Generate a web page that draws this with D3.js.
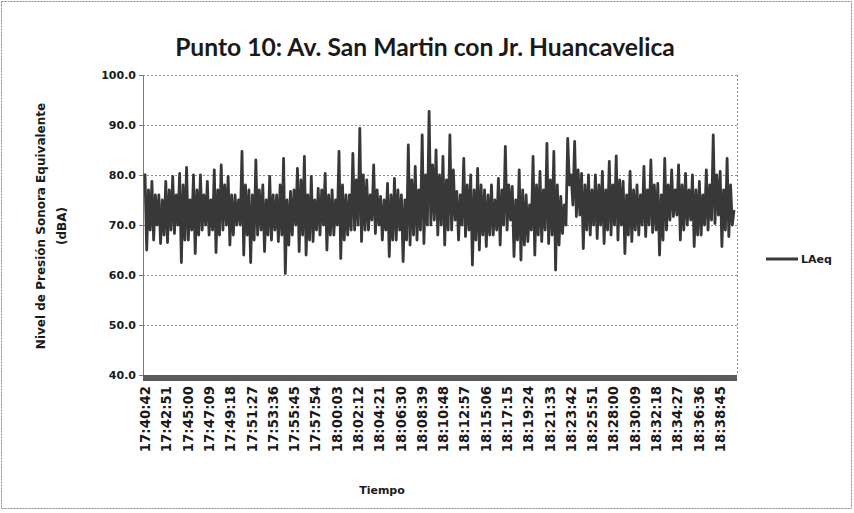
<!DOCTYPE html>
<html><head><meta charset="utf-8">
<script src="https://cdn.jsdelivr.net/npm/d3@7/dist/d3.min.js"></script>
<style>
html,body{margin:0;padding:0;background:#fff;}
text{font-family:"DejaVu Sans",Verdana,sans-serif;font-weight:bold;fill:#1a1a1a;}
</style></head>
<body><svg id="chart" width="854" height="513"></svg>
<script>
// ---- data ----
const titleText = "Punto 10: Av. San Martin con Jr. Huancavelica";
const yTitle1 = "Nivel de Presión Sonora Equivalente";
const yTitle2 = "(dBA)";
const xTitle = "Tiempo";
const seriesName = "LAeq";
const startTime = "17:40:42";
const stepSeconds = 10.5;
const yTicks = [40, 50, 60, 70, 80, 90, 100];
const tickLabels = ["17:40:42","17:42:51","17:45:00","17:47:09","17:49:18","17:51:27","17:53:36","17:55:45","17:57:54","18:00:03","18:02:12","18:04:21","18:06:30","18:08:39","18:10:48","18:12:57","18:15:06","18:17:15","18:19:24","18:21:33","18:23:42","18:25:51","18:28:00","18:30:09","18:32:18","18:34:27","18:36:36","18:38:45"];
// LAeq, in time order, as successive groups of
// (spike top, dip, upper band, lower band)
const peaks = [80.3,78.7,76,78.7,79.7,80.3,81.5,80,80,78.7, 81,82,79.7,76,84.7,77,83,78,79.7,76,
  83.3,76.7,81.3,83.7,79.7,77.3,80.3,77,84.7,76, 84.3,89.3,79,82,75.7,78.3,79.3,76,86,81.7,
  88,92.7,85,83.7,88,76.7,83.3,80,81.3,77, 78,79.3,85.7,77.7,81,76,83.7,80.7,86.3,84.7,
  75.7,87.3,86.7,80.3,80,80,80.7,82.7,83.8,78.7, 80.7,78,81.7,83,78.3,83.3,81,82,80.3,80,
  78.7,81,88,80.7,83.3];
const dips = [65,67,66.3,66.5,68.3,62.5,67,64.3,69,68, 64.5,69,66,70,64,62.5,68,64.7,67,66.7,
  60.3,68,64.7,64,66.7,68,65,68,63.3,68, 69,66.7,69,68.3,67,63.7,67,62.7,66,67,
  66.3,70,68,66,69,67,67.7,62,65,65.7, 68,66,69,63.7,63,66.7,64,66.7,66.3,61,
  68.3,78,71.7,65.3,68,67.3,66.3,68,67,64.3, 66.7,68,67.7,68.5,64,69,71.7,67,70,65.7,
  68,69,70.3,65.7,67.7];
const bandHigh = [77,76,75,77,76,78,75,77,76,75,77,78,76, 75,78,76,77,75,76,78,75,77,79,76,75,77,
  76,75,78,76,79,80,76,77,75,76,77,75,79,77,80, 82,80,79,81,76,78,77,78,
  76,75,77,78,75,77,74,78,77,79,78,74, 80,81,78,77,78,77,78,79,76,77,
  76,77,78,76,78,77,78,77,77,76,78,80,77,78];
const bandLow = [69,70,68,69,70,67,69,68,70,69,68,70,68, 70,68,67,69,68,69,68,66,70,68,67,69,70,
  68,70,67,69,70,69,71,70,69,67,69,67,68,69,70, 71,70,69,71,70,69,67,68,
  68,69,70,71,67,66,69,68,69,68,66,70, 74,72,69,70,70,69,70,70,68,69,
  70,70,69,67,71,72,69,71,68,70,71,72,69,70];
const finalValue = 73;
const laeq = peaks.flatMap((p, i) => [p, dips[i], bandHigh[i], bandLow[i]]).concat([finalValue]);

// ---- layout ----
const svg = d3.select("#chart");
const plot = {left: 143, right: 737, top: 75, bottom: 375};
const toSec = s => { const p = s.split(":").map(Number); return p[0]*3600 + p[1]*60 + p[2]; };
const t0 = toSec(startTime);

const x = d3.scaleLinear().domain([-12, 3588]).range([plot.left, plot.right]);
const y = d3.scaleLinear().domain([40, 100]).range([plot.bottom, plot.top]);

// outer border
svg.append("rect").attr("x", 1.5).attr("y", 1.5).attr("width", 850).attr("height", 507)
  .attr("fill", "#fff").attr("stroke", "#8a8a8a").attr("stroke-dasharray", "2,1").attr("stroke-width", 1);

// gridlines
svg.append("g").selectAll("line").data(yTicks.filter(v => v > 40)).join("line")
  .attr("x1", plot.left).attr("x2", plot.right)
  .attr("y1", d => y(d) + 0.5).attr("y2", d => y(d) + 0.5)
  .attr("stroke", "#8c8c8c").attr("stroke-width", 1).attr("stroke-dasharray", "2,2");
svg.append("line").attr("x1", plot.right + 0.5).attr("x2", plot.right + 0.5)
  .attr("y1", plot.top).attr("y2", plot.bottom)
  .attr("stroke", "#8c8c8c").attr("stroke-dasharray", "2,2");

// y axis
const yAxis = d3.axisLeft(y).tickValues(yTicks).tickFormat(d3.format(".1f")).tickSize(4).tickPadding(3);
const gy = svg.append("g").attr("transform", `translate(${plot.left},0)`).call(yAxis);
gy.select(".domain").attr("stroke", "#7a7a7a");
gy.selectAll(".tick line").attr("stroke", "#7a7a7a");
gy.selectAll("text").style("font-size", "11px").style("font-family", "DejaVu Sans").style("font-weight", "bold").attr("fill", "#1a1a1a");

// data line
const line = d3.line().x((d, i) => x(i * stepSeconds)).y(d => y(d));
svg.append("path").datum(laeq).attr("d", line)
  .attr("fill", "none").attr("stroke", "#383838").attr("stroke-width", 2.8).attr("stroke-linejoin", "round");

// thick x axis band
svg.append("rect").attr("x", plot.left).attr("y", plot.bottom).attr("width", plot.right - plot.left).attr("height", 6)
  .attr("fill", "#5a5a5a");

// x axis labels
const tickSecs = tickLabels.map(s => toSec(s) - t0);
const xAxis = d3.axisBottom(x).tickValues(tickSecs).tickFormat((d, i) => tickLabels[i]).tickSize(0);
const gx = svg.append("g").attr("transform", `translate(0,${plot.bottom + 6})`).call(xAxis);
gx.select(".domain").remove();
gx.selectAll("text")
  .style("font-size", "13.3px").style("font-family", "DejaVu Sans").style("font-weight", "bold").attr("fill", "#1a1a1a")
  .attr("transform", "rotate(-90)").attr("text-anchor", "end")
  .attr("x", -5).attr("y", 0).attr("dy", "0.35em");

// title (fit to the reference width)
const title = svg.append("text").attr("x", 425).attr("y", 56).attr("text-anchor", "middle")
  .style("font-family", "Lato, 'Open Sans', sans-serif").style("font-size", "22px").style("font-weight", "bold")
  .text(titleText);
const tl = title.node().getComputedTextLength();
title.style("font-size", (22 * 500 / tl).toFixed(2) + "px");

// axis titles
svg.append("text").attr("transform", "translate(45,226) rotate(-90)").attr("text-anchor", "middle")
  .style("font-size", "12px").text(yTitle1);
svg.append("text").attr("transform", "translate(66,226) rotate(-90)").attr("text-anchor", "middle")
  .style("font-size", "12px").text(yTitle2);
svg.append("text").attr("x", 382).attr("y", 494).attr("text-anchor", "middle")
  .style("font-size", "11px").text(xTitle);

// legend
svg.append("line").attr("x1", 766).attr("x2", 798).attr("y1", 259).attr("y2", 259)
  .attr("stroke", "#383838").attr("stroke-width", 3);
svg.append("text").attr("x", 801).attr("y", 263).style("font-size", "11px").text(seriesName);
</script></body></html>
